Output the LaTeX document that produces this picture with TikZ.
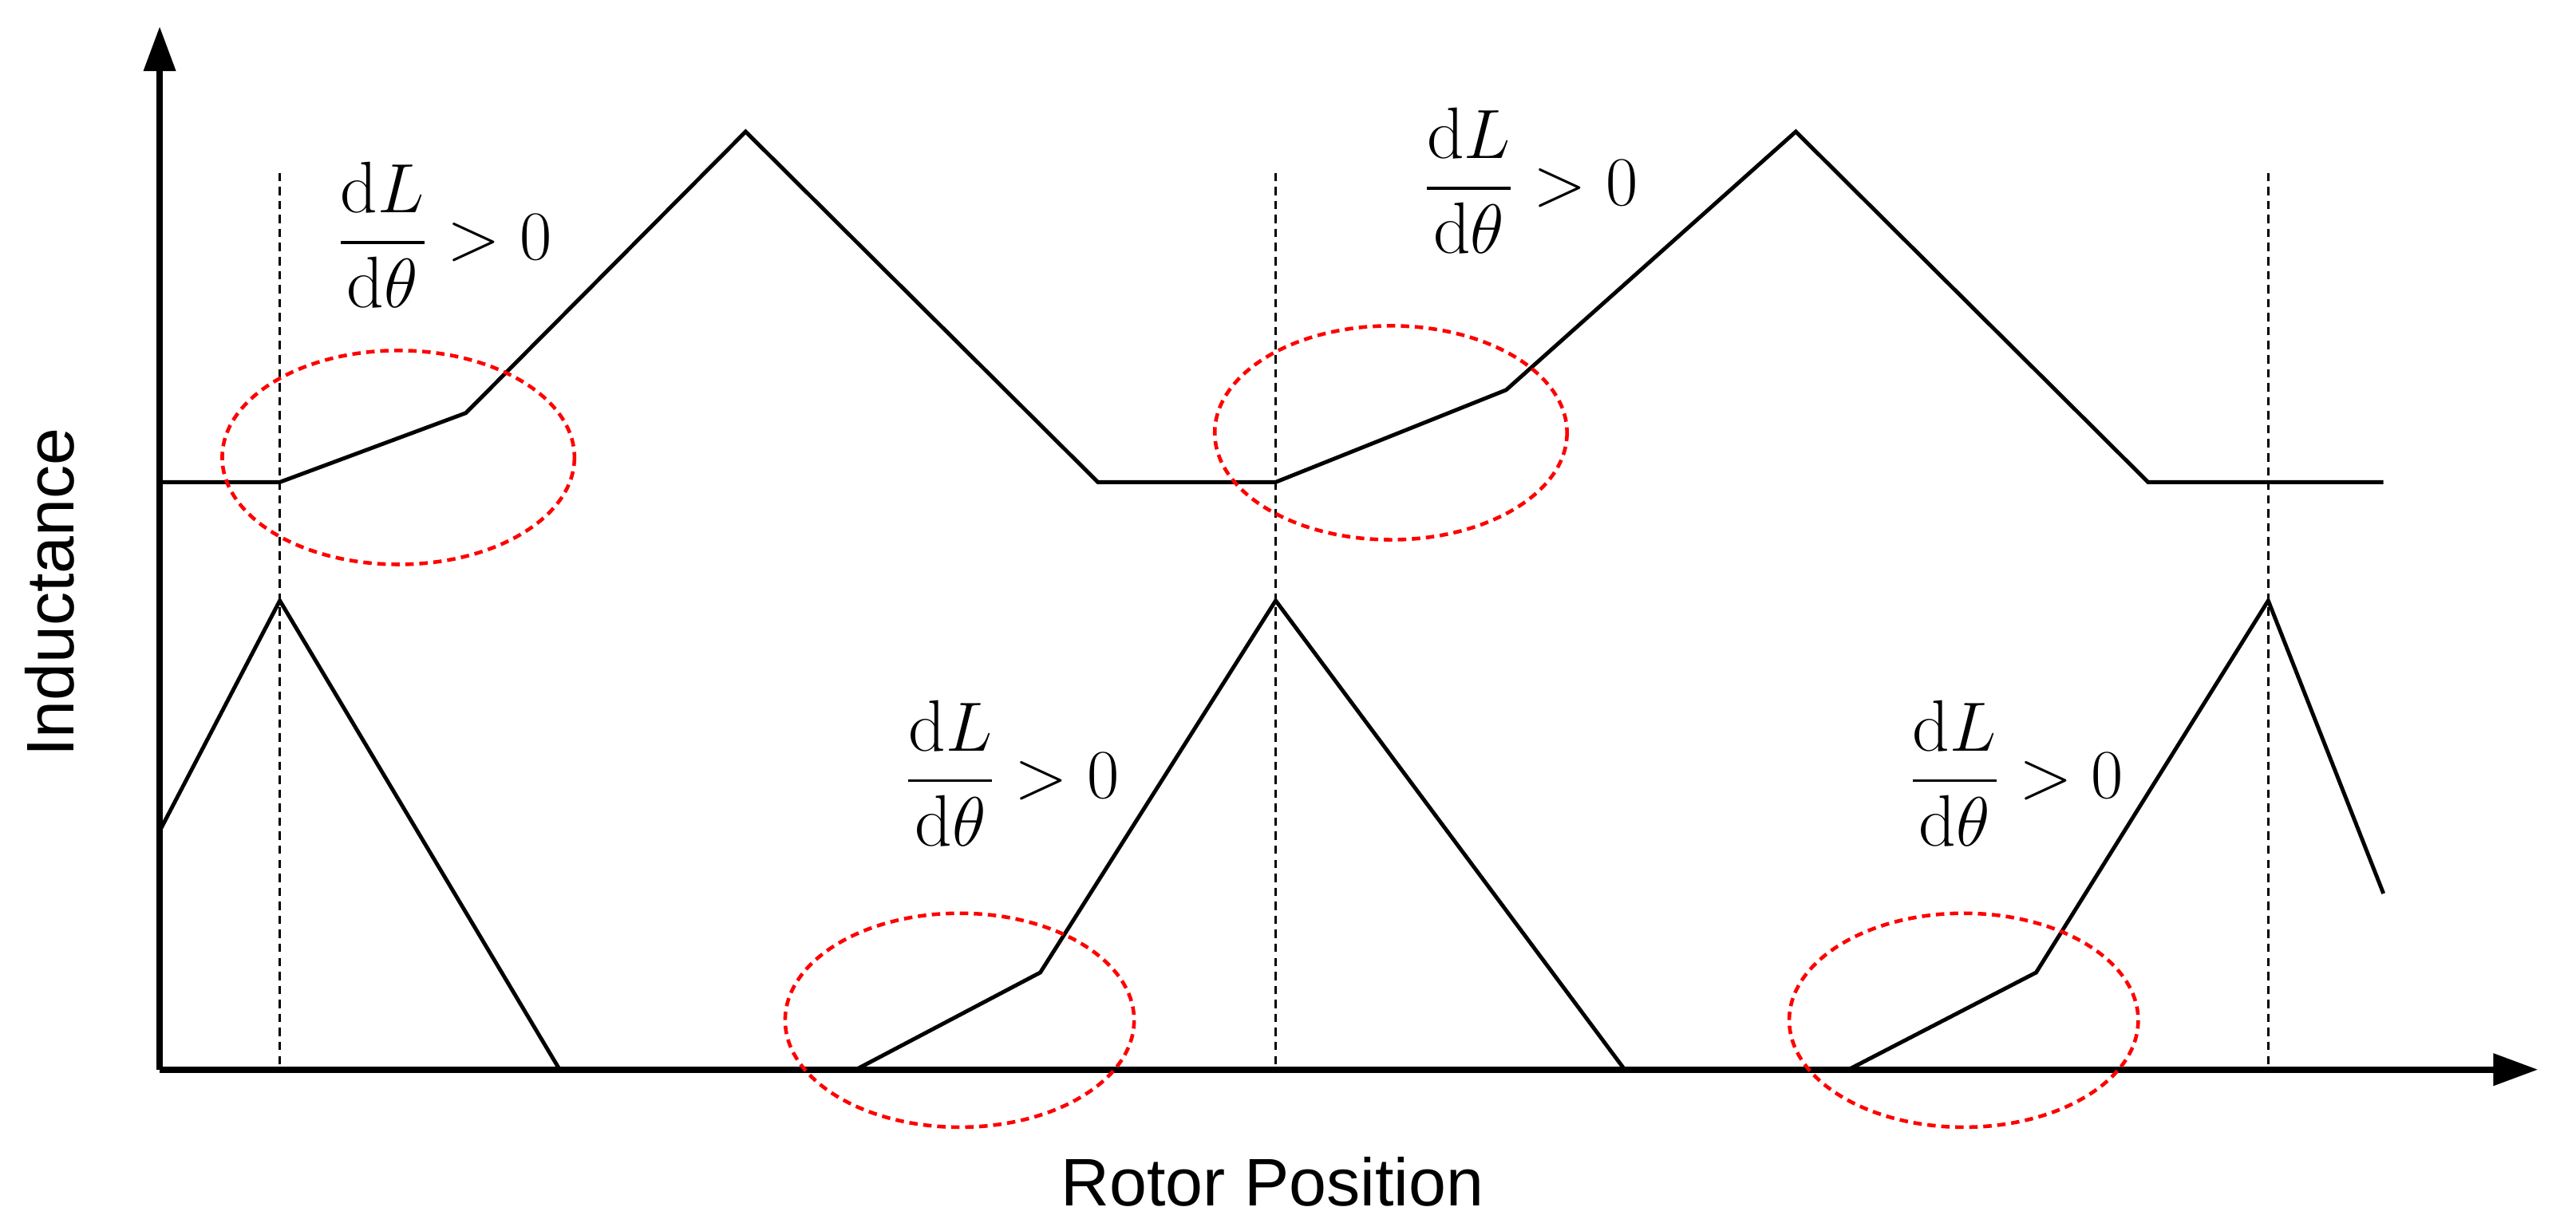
\documentclass[tikz,border=0pt]{standalone}
\usepackage{amsmath}
\usepackage{fontspec}
\newfontfamily\axisfont{Liberation Sans}
\usetikzlibrary{arrows.meta}
\begin{document}
\begin{tikzpicture}[x=0.020626cm,y=-0.020626cm]

\tikzset{axis/.style={line width=2.4pt, -{Triangle[length=16pt,width=11pt]}},
curve/.style={line width=1.4pt},
guide/.style={line width=0.9pt, dash pattern=on 3pt off 2pt},
region/.style={red, line width=1.3pt, dash pattern=on 3pt off 2pt},
slope/.style={font=\fontsize{26}{30}\selectfont},
axislabel/.style={font=\axisfont\fontsize{24}{28}\selectfont}}

\useasboundingbox (0,0) rectangle (1565,738);

\coordinate (o) at (97,650);
\coordinate (ytop) at (97,16);
\coordinate (xend) at (1542,650);

% dashed guide lines
\foreach \x in {170,775,1378}
  \draw[guide] (\x,105) -- (\x,650);

% upper curve
\draw[curve] (97,293) -- (170,293) -- (283,251) -- (453,80) -- (667,293) -- (775,293)
  -- (915,237) -- (1091,80) -- (1305,293) -- (1448,293);

% lower curve
\draw[curve] (97,505) -- (170,365) -- (340,650);
\draw[curve] (520,650) -- (632,591) -- (775,365) -- (987,650);
\draw[curve] (1123,650) -- (1237,591) -- (1378,365) -- (1448,543);

% axes
\draw[axis] (o) -- (ytop);
\draw[axis] (o) -- (xend);

% rising regions
\draw[region] (242,278) ellipse [x radius=107, y radius=65];
\draw[region] (845,263) ellipse [x radius=107, y radius=65];
\draw[region] (583,620) ellipse [x radius=106, y radius=65];
\draw[region] (1193,620) ellipse [x radius=106, y radius=65];

\node[slope] (s1) at (270,143) {$\dfrac{\mathrm{d}L}{\mathrm{d}\theta} > 0$};
\node[slope] (s2) at (930,110) {$\dfrac{\mathrm{d}L}{\mathrm{d}\theta} > 0$};
\node[slope] (s3) at (615,470) {$\dfrac{\mathrm{d}L}{\mathrm{d}\theta} > 0$};
\node[slope] (s4) at (1225,470) {$\dfrac{\mathrm{d}L}{\mathrm{d}\theta} > 0$};

\node[axislabel, rotate=90] (ylab) at (30,360) {Inductance};
\node[axislabel] (xlab) at (773,718) {Rotor Position};

\end{tikzpicture}
\end{document}
